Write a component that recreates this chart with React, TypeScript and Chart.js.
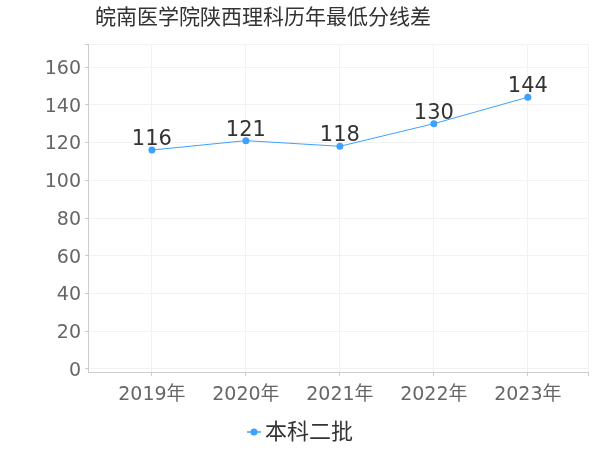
import React, { useEffect, useRef } from "react";
import { Chart, registerables } from "chart.js";

Chart.register(...registerables);

const titleText = "皖南医学院陕西理科历年最低分线差";
const years = [2019, 2020, 2021, 2022, 2023];
const categories = ["2019年", "2020年", "2021年", "2022年", "2023年"];
const seriesName = "本科二批";
const values = [116, 121, 118, 130, 144];
const yTicks = [0, 20, 40, 60, 80, 100, 120, 140, 160];

const FONT = "'DejaVu Sans', 'Noto Sans CJK SC', sans-serif";
const BLUE = "#3ea0ff";

const dataLabelPlugin = {
  id: "dataLabels",
  afterDatasetsDraw(chart: any) {
    const ctx = chart.ctx;
    const meta = chart.getDatasetMeta(0);
    ctx.save();
    ctx.font = `21px ${FONT}`;
    ctx.fillStyle = "#333";
    ctx.textAlign = "center";
    ctx.textBaseline = "alphabetic";
    meta.data.forEach((pt: any, i: number) => {
      ctx.fillText(String(values[i]), pt.x, pt.y - 5);
    });
    ctx.restore();
  },
};

const titleLegendPlugin = {
  id: "titleLegend",
  afterDraw(chart: any) {
    const ctx = chart.ctx;
    ctx.save();
    // title
    ctx.font = `21px ${FONT}`;
    ctx.fillStyle = "#333";
    ctx.textAlign = "left";
    ctx.textBaseline = "middle";
    ctx.fillText(titleText, 95, 19);
    // legend
    const ly = 432;
    ctx.strokeStyle = BLUE;
    ctx.lineWidth = 1.5;
    ctx.beginPath();
    ctx.moveTo(247, ly);
    ctx.lineTo(261, ly);
    ctx.stroke();
    ctx.fillStyle = BLUE;
    ctx.beginPath();
    ctx.arc(254, ly, 3.5, 0, Math.PI * 2);
    ctx.fill();
    ctx.font = `22px ${FONT}`;
    ctx.fillStyle = "#333";
    ctx.textAlign = "left";
    ctx.textBaseline = "middle";
    ctx.fillText(seriesName, 265, ly + 1);
    ctx.restore();
  },
};

export default function App() {
  const ref = useRef<HTMLCanvasElement>(null);
  useEffect(() => {
    document.body.style.margin = "0";
    const chart = new Chart(ref.current!, {
      type: "line",
      data: {
        datasets: [
          {
            label: seriesName,
            data: years.map((y, i) => ({ x: y, y: values[i] })),
            borderColor: BLUE,
            backgroundColor: BLUE,
            borderWidth: 1,
            pointRadius: 3.5,
            pointBackgroundColor: BLUE,
            pointBorderWidth: 0,
            pointStyle: "circle",
            tension: 0,
          } as any,
        ],
      },
      options: {
        animation: false,
        responsive: false,
        layout: { padding: { left: 0, right: 12, top: 44, bottom: 38 } },
        plugins: {
          title: { display: false },
          legend: { display: false },
          tooltip: { enabled: false },
        },
        scales: {
          x: {
            type: "linear",
            min: 2018.32,
            max: 2023.64,
            afterBuildTicks: (scale: any) => {
              scale.ticks = [...years, 2023.64].map((v) => ({ value: v }));
            },
            afterFit: (scale: any) => {
              scale.height = 40;
            },
            ticks: {
              font: { family: FONT, size: 19 },
              color: "#666",
              padding: 8,
              maxRotation: 0,
              autoSkip: false,
              callback: (v: any) => {
                const i = years.indexOf(Number(v));
                return i >= 0 ? categories[i] : "";
              },
            },
            grid: {
              color: "#f2f2f2",
              tickColor: "#ccc",
              tickLength: 4,
            },
            border: { color: "#ccc", width: 1 },
          },
          y: {
            type: "linear",
            min: -1.6,
            max: 172.2,
            afterBuildTicks: (scale: any) => {
              scale.ticks = [...yTicks, 172.2].map((v) => ({ value: v }));
            },
            afterFit: (scale: any) => {
              scale.width = 88;
            },
            ticks: {
              font: { family: FONT, size: 19 },
              color: "#666",
              padding: 4,
              labelOffset: 2,
              callback: (v: any) => (yTicks.includes(Number(v)) ? String(v) : ""),
            },
            grid: {
              color: "#f2f2f2",
              tickColor: "#ccc",
              tickLength: 3,
            },
            border: { color: "#ccc", width: 1 },
          },
        },
      } as any,
      plugins: [dataLabelPlugin, titleLegendPlugin],
    });
    return () => chart.destroy();
  }, []);
  return (
    <div style={{ width: 600, height: 450 }}>
      <canvas ref={ref} width={600} height={450} style={{ width: 600, height: 450 }} />
    </div>
  );
}
